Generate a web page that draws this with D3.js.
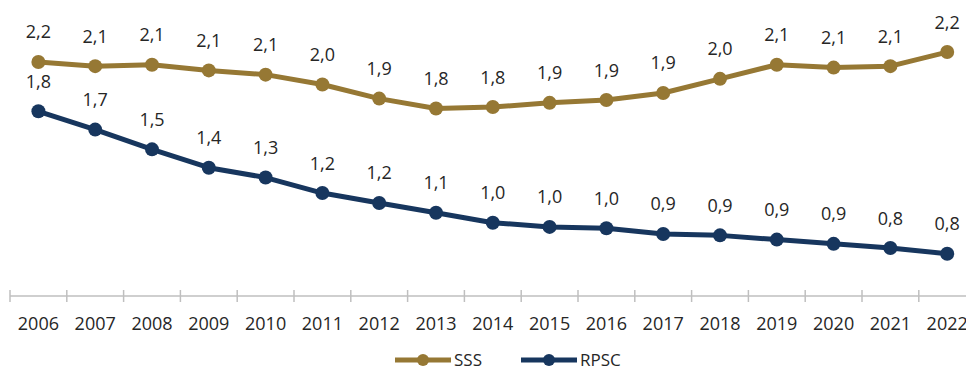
<!DOCTYPE html>
<html>
<head>
<meta charset="utf-8">
<script src="https://cdn.jsdelivr.net/npm/d3@7"></script>
<style>
  body { margin: 0; background: #fff; }
  svg text { font-family: "Open Sans", sans-serif; fill: #262626; }
</style>
</head>
<body>
<svg class="svg-main" width="966" height="369"></svg>
<script>
const years = ["2006","2007","2008","2009","2010","2011","2012","2013","2014","2015","2016","2017","2018","2019","2020","2021","2022"];
const sss  = [2.16, 2.13, 2.14, 2.10, 2.07, 2.00, 1.90, 1.83, 1.84, 1.87, 1.89, 1.94, 2.04, 2.14, 2.12, 2.13, 2.23];
const rpsc = [1.81, 1.68, 1.54, 1.41, 1.34, 1.23, 1.16, 1.09, 1.02, 0.99, 0.98, 0.94, 0.93, 0.90, 0.87, 0.84, 0.80];
const seriesNames = ["SSS", "RPSC"];
const colors = ["#967834", "#17365e"];

const svg = d3.select(".svg-main");

const x = d3.scaleBand()
  .domain(years)
  .range([10, 10 + 17 * 56.8]);

const y = d3.scaleLinear()
  .domain([0.5, 2.5])
  .range([296, 14]);

const fmt = (v) => d3.format(".1f")(v).replace(".", ",");

// x axis
const axis = svg.append("g").attr("class", "x-axis");
axis.append("line")
  .attr("x1", 10).attr("x2", 966)
  .attr("y1", 296).attr("y2", 296)
  .attr("stroke", "#bfbfbf").attr("stroke-width", 1.5);
axis.selectAll("line.tick")
  .data(years)
  .enter().append("line")
    .attr("class", "tick")
    .attr("x1", d => x(d)).attr("x2", d => x(d))
    .attr("y1", 290).attr("y2", 302)
    .attr("stroke", "#bfbfbf").attr("stroke-width", 1.5);
axis.selectAll("text")
  .data(years)
  .enter().append("text")
    .attr("x", d => x(d) + x.bandwidth() / 2)
    .attr("y", 330)
    .attr("text-anchor", "middle")
    .style("font-size", "18px")
    .text(d => d);

const cx = (d, i) => x(years[i]) + x.bandwidth() / 2;

[sss, rpsc].forEach((vals, k) => {
  const g = svg.append("g").attr("class", "series-" + k);
  const line = d3.line()
    .x((d, i) => cx(d, i))
    .y(d => y(d));

  g.append("path")
    .datum(vals)
    .attr("d", line)
    .attr("fill", "none")
    .attr("stroke", colors[k])
    .attr("stroke-width", 5)
    .attr("stroke-linejoin", "round");

  g.selectAll("circle")
    .data(vals)
    .enter().append("circle")
      .attr("cx", cx)
      .attr("cy", d => y(d))
      .attr("r", 7)
      .attr("fill", colors[k]);

  g.selectAll("text")
    .data(vals)
    .enter().append("text")
      .attr("x", cx)
      .attr("y", d => y(d) - 23.5)
      .attr("text-anchor", "middle")
      .style("font-size", "18px")
      .text(d => fmt(d));
});

// legend
const legendX = [395, 521];
const legend = svg.append("g").attr("class", "legend");
seriesNames.forEach((name, k) => {
  const lx = legendX[k];
  legend.append("line")
    .attr("x1", lx).attr("x2", lx + 56)
    .attr("y1", 360).attr("y2", 360)
    .attr("stroke", colors[k]).attr("stroke-width", 5);
  legend.append("circle")
    .attr("cx", lx + 28).attr("cy", 360).attr("r", 6)
    .attr("fill", colors[k]);
  legend.append("text")
    .attr("x", lx + 59).attr("y", 366)
    .style("font-size", "17px")
    .text(name);
});
</script>
</body>
</html>
